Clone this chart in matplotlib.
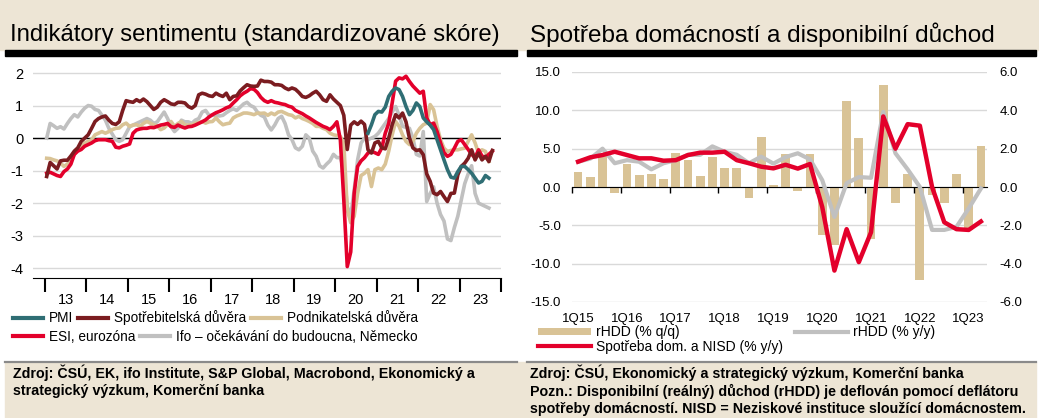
# -*- coding: utf-8 -*-
import numpy as np
import matplotlib.pyplot as plt
from matplotlib.patches import Rectangle
from matplotlib.lines import Line2D
from matplotlib.ticker import FormatStrFormatter

plt.rcParams['font.family'] = ['Liberation Sans', 'DejaVu Sans']
plt.rcParams['axes.unicode_minus'] = False

# --- levy graf: mesicni data od ledna 2013 (standardizovane skore)
start_year = 2013
pmi_start = 93  # index mesice, od ktereho je PMI (rijen 2020)

pmi = [0.15, 0.41, 0.72,
       0.82, 0.8, 0.95, 1.28, 1.44, 1.54, 1.49, 1.28, 0.97, 0.72, 0.85, 1.08,
       0.97, 0.62, 0.5, 0.4, 0.26, -0.05, -0.36, -0.67, -0.97, -1.2, -1.23, -1.03,
       -0.87, -0.87, -0.97, -1.08, -1.23, -1.38, -1.33, -1.15, -1.23]

spotrebitelska = [-1.18, -0.75, -0.85, -0.95, -0.7, -0.68, -0.68, -0.55, -0.4, -0.3, -0.1, 0.0,
                  0.1, 0.3, 0.51, 0.6, 0.65, 0.68, 0.55, 0.45, 0.42, 0.5, 0.85, 1.15,
                  1.12, 1.1, 1.18, 1.12, 1.2, 1.12, 1.0, 0.88, 0.95, 1.1, 1.18, 1.12,
                  1.05, 1.03, 1.1, 1.1, 1.08, 0.97, 0.92, 1.0, 1.33, 1.38, 1.35, 1.3,
                  1.28, 1.38, 1.32, 1.28, 1.38, 1.18, 1.28, 1.3, 1.45, 1.55, 1.64, 1.6,
                  1.59, 1.6, 1.78, 1.74, 1.74, 1.72, 1.64, 1.64, 1.62, 1.54, 1.49, 1.54,
                  1.5, 1.4, 1.28, 1.25, 1.3, 1.38, 1.44, 1.33, 1.18, 1.13, 1.33, 1.2,
                  1.1, 1.0, 0.7, -0.35, 0.4, 0.5, 0.42, 0.52, 0.42, -0.36, -0.46, -0.15,
                  -0.1, -0.3, -0.33, 0.0, 0.41, 0.72, 0.62, 0.77, 0.5, 0.0, -0.3, -0.38,
                  -0.36, -0.51, -1.1, -1.33, -1.69, -1.74, -1.64, -1.8, -1.95, -1.7, -1.69, -1.13,
                  -0.87, -0.77, -0.62, -0.36, -0.67, -0.46, -0.67, -0.56, -0.72, -0.38]

podnikatelska = [-0.62, -0.63, -0.67, -0.7, -0.77, -0.87, -0.8, -0.67, -0.5, -0.36, -0.25, -0.15,
                 -0.1, -0.05, 0.1, 0.15, 0.2, 0.15, 0.2, 0.26, 0.3, 0.31, 0.41, 0.46,
                 0.36, 0.4, 0.41, 0.36, 0.45, 0.51, 0.46, 0.41, 0.38, 0.26, 0.31, 0.42,
                 0.51, 0.36, 0.45, 0.51, 0.41, 0.4, 0.41, 0.46, 0.48, 0.51, 0.46, 0.5,
                 0.51, 0.62, 0.5, 0.41, 0.44, 0.46, 0.62, 0.68, 0.72, 0.77, 0.77, 0.75,
                 0.72, 0.77, 0.76, 0.77, 0.7, 0.77, 0.72, 0.8, 0.82, 0.77, 0.72, 0.7,
                 0.62, 0.67, 0.6, 0.56, 0.51, 0.45, 0.36, 0.36, 0.3, 0.26, 0.15, 0.1,
                 0.08, 0.05, -0.15, -2.2, -2.6, -2.4, -1.7, -1.15, -1.08, -0.97, -1.49, -0.97,
                 -0.92, -0.97, -0.8, -0.4, 0.1, 0.51, 0.36, 0.1, -0.1, -0.2, -0.1, 0.15,
                 0.3, 0.41, 0.46, 1.03, 0.87, 0.36, -0.05, -0.31, -0.41, -0.38, -0.36, -0.36,
                 -0.33, -0.31, -0.1, 0.1, -0.15, -0.46, -0.36, -0.41, -0.72]

esi = [-1.08, -1.05, -1.1, -1.15, -1.18, -1.03, -0.95, -0.8, -0.5, -0.4, -0.35, -0.25,
       -0.2, -0.15, -0.08, -0.05, -0.05, -0.05, -0.08, -0.1, -0.28, -0.3, -0.25, -0.22,
       -0.18, 0.15, 0.25, 0.28, 0.3, 0.3, 0.33, 0.32, 0.36, 0.4, 0.42, 0.45,
       0.35, 0.33, 0.4, 0.35, 0.31, 0.35, 0.36, 0.4, 0.45, 0.5, 0.56, 0.65,
       0.72, 0.78, 0.82, 0.87, 0.93, 0.97, 1.08, 1.18, 1.3, 1.38, 1.44, 1.52,
       1.5, 1.4, 1.25, 1.15, 1.1, 1.15, 1.1, 1.08, 1.05, 1.03, 0.98, 0.95,
       0.85, 0.8, 0.75, 0.68, 0.62, 0.55, 0.48, 0.42, 0.36, 0.32, 0.26, 0.36,
       0.5, -0.05, -1.9, -3.95, -3.5, -1.7, -0.87, -0.7, -0.6, -0.46, -0.41, -0.45,
       -0.5, -0.3, 0.15, 0.45, 1.08, 1.75, 1.85, 1.82, 1.9, 1.74, 1.6, 1.49,
       1.38, 1.44, 0.62, 0.41, 0.46, 0.2, -0.15, -0.45, -0.56, -0.5, -0.31, -0.1,
       -0.05, -0.2, -0.35, -0.5, -0.6, -0.36, -0.55, -0.6, -0.5, -0.4]

ifo = [0.0, 0.45, 0.38, 0.3, 0.35, 0.28, 0.45, 0.6, 0.72, 0.65, 0.8, 0.92,
       1.0, 0.98, 0.88, 0.85, 0.7, 0.55, 0.3, 0.12, -0.05, -0.1, -0.05, 0.15,
       0.35, 0.4, 0.45, 0.5, 0.55, 0.6, 0.55, 0.45, 0.5, 0.65, 0.8, 0.6,
       0.35, 0.2, 0.3, 0.55, 0.5, 0.5, 0.45, 0.55, 0.6, 0.8, 0.85, 0.7,
       0.7, 0.7, 0.68, 0.7, 0.78, 0.85, 0.9, 0.85, 0.95, 1.05, 1.1, 1.0,
       0.95, 0.8, 0.7, 0.65, 0.4, 0.25, 0.4, 0.6, 0.67, 0.45, 0.1, -0.05,
       -0.3, -0.36, -0.25, 0.1, 0.0, -0.4, -0.56, -0.85, -0.92, -0.8, -0.7, -0.5,
       -0.6, -0.6, -0.97, -2.1, -2.4, -1.6, -0.67, -0.15, 0.0, -0.05, 0.0, 0.05,
       0.15, 0.3, 0.45, 0.6, 0.8, 0.97, 0.7, 0.36, 0.33, 0.3, 0.0, -0.5,
       -0.55, 0.2, -1.95, -1.7, -1.5, -2.0, -2.35, -2.55, -3.1, -3.15, -2.75, -2.4,
       -1.9, -1.4, -1.1, -0.85, -1.7, -2.0, -2.05, -2.1, -2.15]

year_ticks = list(range(2013, 2025))
year_labels = ['13', '14', '15', '16', '17', '18', '19', '20', '21', '22', '23']

# --- pravy graf: ctvrtletni data 1Q15-2Q23
quarters = ['1Q15', '2Q15', '3Q15', '4Q15', '1Q16', '2Q16', '3Q16', '4Q16',
            '1Q17', '2Q17', '3Q17', '4Q17', '1Q18', '2Q18', '3Q18', '4Q18',
            '1Q19', '2Q19', '3Q19', '4Q19', '1Q20', '2Q20', '3Q20', '4Q20',
            '1Q21', '2Q21', '3Q21', '4Q21', '1Q22', '2Q22', '3Q22', '4Q22',
            '1Q23', '2Q23']
rhdd_qq = [0.78, 0.54, 1.62, -0.3, 1.2, 0.63, 0.66, 0.4,
           1.76, 1.41, 0.57, 1.58, 1.0, 0.97, -0.56, 2.6,
           0.1, 1.74, -0.2, 1.72, -2.5, -3.05, 4.48, 2.56,
           -2.7, 5.3, -0.82, 0.66, -4.84, -0.43, -0.82, 0.66,
           -2.26, 2.13]
rhdd_yy = [3.3, 3.7, 5.0, 3.1, 3.5, 3.3, 2.3, 3.1,
           3.5, 4.2, 4.2, 5.3, 4.6, 4.2, 3.1, 3.96,
           3.05, 3.9, 4.4, 3.6, 0.9, -3.9, 0.5, 1.3,
           1.2, 9.8, 4.4, 2.3, 0.0, -5.6, -5.6, -5.2,
           -2.8, -0.2]
spotreba = [3.3, 3.87, 4.17, 4.6, 4.17, 3.74, 3.74, 3.43,
            3.5, 4.17, 4.48, 4.48, 4.6, 3.5, 3.1, 2.65,
            2.43, 2.9, 2.4, 3.0, -2.6, -10.9, -5.5, -9.8,
            -5.9, 9.2, 5.0, 8.2, 8.0, 0.0, -4.6, -5.5,
            -5.6, -4.5]

BEIGE = '#ede5d5'
GRID = '#d9d9d9'
TEAL = '#2f6e74'
BROWN = '#7b1c20'
TAN = '#d9c396'
RED = '#e3002b'
GRAY = '#c0c0c0'

W, H = 1039, 418
fig = plt.figure(figsize=(W / 100, H / 100), dpi=100)


def fx(px):
    return px / W


def fy(py):
    return 1 - py / H


# pozadi, pruhy a paticky
fig.add_artist(Rectangle((0, fy(50)), 1, 1 - fy(50), transform=fig.transFigure,
                         color=BEIGE, zorder=0))
fig.add_artist(Rectangle((fx(5), 0), fx(1036) - fx(5), fy(362), transform=fig.transFigure,
                         color=BEIGE, zorder=0))
for x0, x1 in [(5, 517), (527, 1036)]:
    fig.add_artist(Rectangle((fx(x0), fy(56)), fx(x1) - fx(x0), fy(50) - fy(56),
                             transform=fig.transFigure, color='black', zorder=1))
    fig.add_artist(Line2D([fx(x0), fx(x1)], [fy(362), fy(362)], transform=fig.transFigure,
                          color='#8a8a8a', lw=1.6, zorder=1))

fig.text(fx(10), fy(35), 'Indikátory sentimentu (standardizované skóre)', fontsize=17.2,
         va='center', ha='left')
fig.text(fx(530), fy(35), 'Spotřeba domácností a disponibilní důchod', fontsize=17.5,
         va='center', ha='left')

# ---------------- levy graf
axL = fig.add_axes([fx(33), fy(278), fx(501) - fx(33), fy(60) - fy(278)])
x_m = start_year + (np.arange(len(esi)) + 0.5) / 12
axL.set_xlim(2013 - 12 / 41.6, 2024)
axL.set_ylim(-4.3, 2.4)
axL.set_yticks(range(-4, 3))
axL.yaxis.grid(True, color=GRID, lw=1)
axL.set_axisbelow(True)
axL.axhline(0, color='black', lw=1, zorder=2)

l_ifo, = axL.plot(x_m[:len(ifo)], ifo, color=GRAY, lw=2.6, zorder=3)
l_podn, = axL.plot(x_m[:len(podnikatelska)], podnikatelska, color=TAN, lw=2.6, zorder=4)
l_esi, = axL.plot(x_m[:len(esi)], esi, color=RED, lw=2.6, zorder=5)
l_spot, = axL.plot(x_m[:len(spotrebitelska)], spotrebitelska, color=BROWN, lw=2.6, zorder=6)
l_pmi, = axL.plot(x_m[pmi_start:pmi_start + len(pmi)], pmi, color=TEAL, lw=2.6, zorder=7)

for s in ['top', 'right', 'left']:
    axL.spines[s].set_visible(False)
axL.spines['bottom'].set_color('black')
axL.set_xticks(year_ticks)
axL.set_xticklabels([])
axL.set_xticks([y + 0.5 for y in year_ticks[:-1]], minor=True)
axL.set_xticklabels(year_labels, minor=True)
axL.tick_params(axis='x', which='major', length=10, width=1.5, color='black')
axL.tick_params(axis='x', which='minor', length=0, pad=11, labelsize=10.5)
axL.tick_params(axis='y', length=0, pad=7, labelsize=10.5)

leg1 = fig.legend([l_pmi, l_spot, l_podn], ['PMI', 'Spotřebitelská důvěra', 'Podnikatelská důvěra'],
                  loc='center left', bbox_to_anchor=(fx(13), fy(318)), ncol=3, frameon=False,
                  fontsize=9.8, handlelength=2.2, handletextpad=0.45, columnspacing=0.35,
                  borderpad=0, borderaxespad=0)
leg2 = fig.legend([l_esi, l_ifo], ['ESI, eurozóna', 'Ifo – očekávání do budoucna, Německo'],
                  loc='center left', bbox_to_anchor=(fx(13), fy(337)), ncol=2, frameon=False,
                  fontsize=9.8, handlelength=2.2, handletextpad=0.45, columnspacing=0.35,
                  borderpad=0, borderaxespad=0)
for lg in (leg1, leg2):
    for h in lg.legend_handles:
        h.set_linewidth(3)

# ---------------- pravy graf
axR = fig.add_axes([fx(572), fy(302), fx(987) - fx(572), fy(72) - fy(302)])
axR2 = axR.twinx()
q = np.arange(len(quarters))

bars = axR2.bar(q, rhdd_qq, width=0.72, color=TAN, zorder=2)
axR2.set_ylim(-6, 6)
axR2.set_yticks(np.arange(-6, 7, 2))
axR2.yaxis.set_major_formatter(FormatStrFormatter('%.1f'))
axR2.yaxis.grid(True, color=GRID, lw=1)
axR2.set_axisbelow(True)
axR2.tick_params(axis='y', length=0, pad=9, labelsize=9.5)

axR.set_zorder(axR2.get_zorder() + 1)
axR.patch.set_visible(False)
l_yy, = axR.plot(q, rhdd_yy, color=GRAY, lw=3, zorder=3)
l_sp, = axR.plot(q, spotreba, color=RED, lw=3.2, zorder=4)
axR.set_xlim(-0.5, len(quarters) - 0.5)
axR.set_ylim(-15, 15)
axR.set_yticks(np.arange(-15, 16, 5))
axR.yaxis.set_major_formatter(FormatStrFormatter('%.1f'))
axR.tick_params(axis='y', length=0, pad=8, labelsize=9.5)

for a in (axR, axR2):
    for s in ['top', 'right', 'left']:
        a.spines[s].set_visible(False)
axR2.spines['bottom'].set_visible(False)
axR.spines['bottom'].set_position(('data', 0))
axR.spines['bottom'].set_color('black')
axR.set_xticks(np.arange(-0.5, len(quarters) - 2, 4))
axR.tick_params(axis='x', length=4, width=1, color='black', labelbottom=False)

sec = axR.secondary_xaxis(0.0)
sec.set_xticks(q[::4])
sec.set_xticklabels(quarters[::4])
sec.tick_params(length=0, pad=8, labelsize=9.5)
sec.spines['bottom'].set_visible(False)

leg3 = fig.legend([bars, l_sp, l_yy], ['rHDD (% q/q)', 'Spotřeba dom. a NISD (% y/y)', 'rHDD (% y/y)'],
                  loc='upper left', bbox_to_anchor=(fx(538), fy(325)), ncol=2, frameon=False,
                  fontsize=10, handlelength=3.8, handleheight=0.4, handletextpad=0.35,
                  columnspacing=0.9, labelspacing=0.05, borderpad=0, borderaxespad=0)
for h in leg3.legend_handles:
    if isinstance(h, Line2D):
        h.set_linewidth(3)

# paticky
FOOT = 10.3
fig.text(fx(13), fy(373), 'Zdroj: ČSÚ, EK, ifo Institute, S&P Global, Macrobond, Ekonomický a',
         fontsize=FOOT, fontweight='bold', va='center')
fig.text(fx(13), fy(391), 'strategický výzkum, Komerční banka',
         fontsize=FOOT, fontweight='bold', va='center')
fig.text(fx(530), fy(373), 'Zdroj: ČSÚ, Ekonomický a strategický výzkum, Komerční banka',
         fontsize=FOOT, fontweight='bold', va='center')
fig.text(fx(530), fy(391), 'Pozn.: Disponibilní (reálný) důchod (rHDD) je deflován pomocí deflátoru',
         fontsize=FOOT, fontweight='bold', va='center')
fig.text(fx(530), fy(409), 'spotřeby domácností. NISD = Neziskové instituce sloužící domácnostem.',
         fontsize=FOOT, fontweight='bold', va='center')

fig.savefig('out.png', dpi=100)
